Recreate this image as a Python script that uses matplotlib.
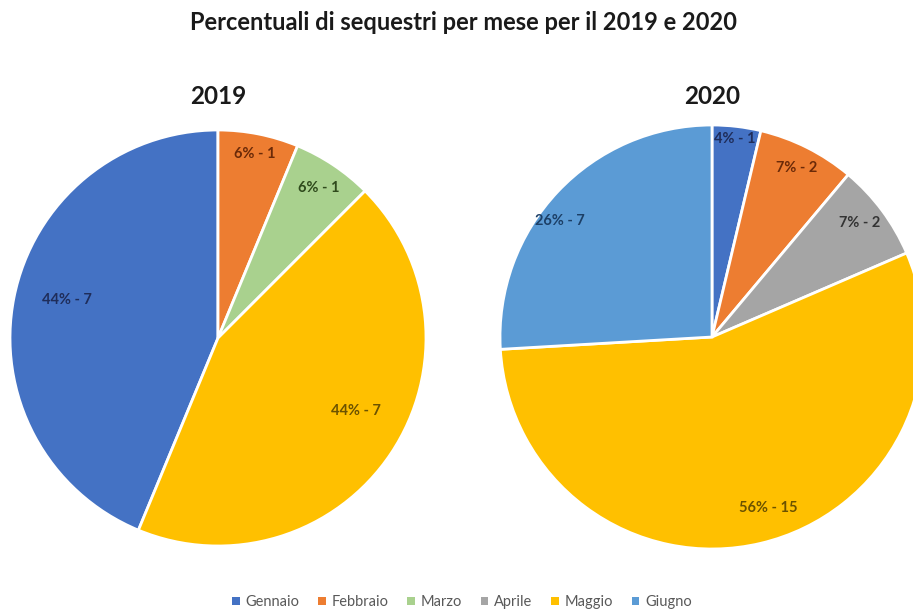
import numpy as np
import matplotlib.pyplot as plt
from matplotlib.patches import Patch

# ======================================================
# DATA
# ======================================================

mesi = ["Gennaio", "Febbraio", "Marzo", "Aprile", "Maggio", "Giugno"]

sequestri_2019 = [7, 1, 1, 0, 7, 0]
sequestri_2020 = [1, 2, 0, 2, 15, 7]

colori = ["#4472C4", "#ED7D31", "#A9D18E", "#A5A5A5", "#FFC000", "#5B9BD5"]
colori_testo = ["#1F2D5A", "#6B2A08", "#2F4A1C", "#333333", "#6B5200", "#1C3F66"]

# posizione etichette (raggio, spostamento angolare) per mese
lab_2019 = {0: (0.75, -3), 1: (0.90, 0), 2: (0.87, 0), 4: (0.75, 6)}
lab_2020 = {0: (0.94, 0), 1: (0.89, 0), 3: (0.88, 1), 4: (0.85, 5), 5: (0.90, 6)}

plt.rcParams["font.family"] = ["Lato", "DejaVu Sans"]

fig = plt.figure(figsize=(9.13, 6.11), dpi=100)
W, H = 913, 611


def disegna_torta(valori, anno, cx, cy, r, lab, start):
    ax = fig.add_axes([(cx - r) / W, (H - cy - r) / H, 2 * r / W, 2 * r / H])
    idx = [i for i, v in enumerate(valori) if v > 0]
    vals = [valori[i] for i in idx]
    tot = sum(vals)
    wedges, _ = ax.pie(
        vals,
        colors=[colori[i] for i in idx],
        startangle=start,
        counterclock=False,
        radius=1,
        wedgeprops=dict(edgecolor="white", linewidth=2),
    )
    for w, i in zip(wedges, idx):
        rr, off = lab[i]
        mid = np.deg2rad((w.theta1 + w.theta2) / 2 + off)
        pct = round(valori[i] / tot * 100)
        ax.text(
            rr * np.cos(mid), rr * np.sin(mid),
            f"{pct}% - {valori[i]}",
            ha="center", va="center",
            fontsize=10.5, fontweight="bold",
            color=colori_testo[i],
        )
    ax.set_xlim(-1, 1)
    ax.set_ylim(-1, 1)
    ax.set_aspect("auto")
    ax.axis("off")
    fig.text(cx / W, 1 - 97 / H, anno, ha="center", va="center",
             fontsize=17.5, fontweight="bold", color="#1a1a1a")


# 2019: Gennaio finisce a ore 12
start_2019 = 90 + 360 * sequestri_2019[0] / sum(sequestri_2019)
disegna_torta(sequestri_2019, "2019", 218, 338, 208, lab_2019, start_2019)
disegna_torta(sequestri_2020, "2020", 712, 337, 212, lab_2020, 90)

fig.text(463 / W, 1 - 23 / H, "Percentuali di sequestri per mese per il 2019 e 2020",
         ha="center", va="center", fontsize=17, fontweight="bold", color="#1a1a1a")

handles = [Patch(facecolor=c, edgecolor="none") for c in colori]
fig.legend(
    handles, mesi,
    loc="center", bbox_to_anchor=(462 / W, 1 - 602 / H),
    ncol=6, frameon=False, fontsize=10.5,
    handlelength=0.5, handleheight=0.5, handletextpad=0.4,
    columnspacing=1.3, labelcolor="#595959",
)

fig.savefig("out.png", dpi=100)
